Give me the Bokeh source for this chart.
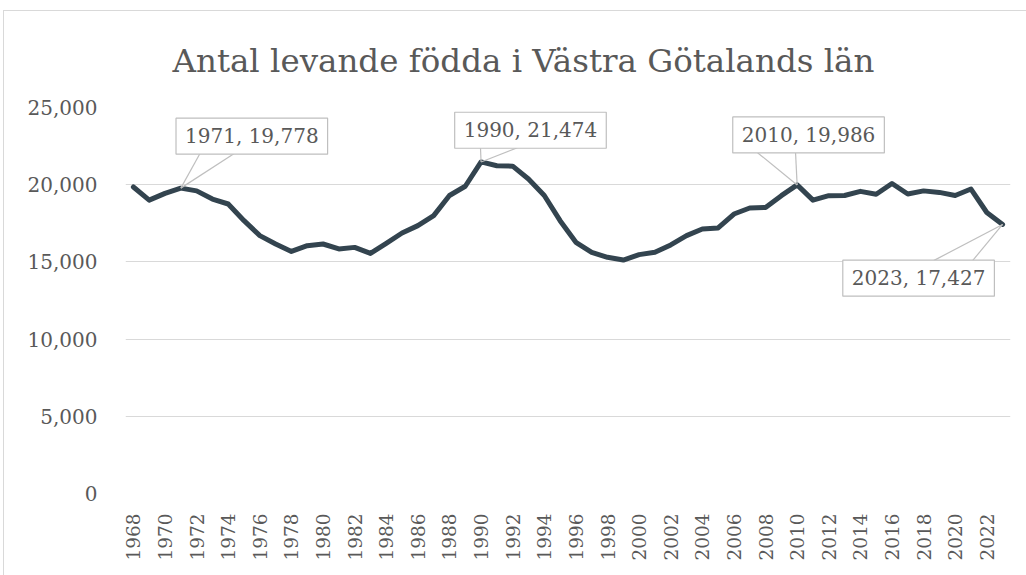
from bokeh.plotting import figure
from bokeh.models import Range1d, FixedTicker, NumeralTickFormatter, Label, ColumnDataSource
from bokeh.embed import file_html
from bokeh.resources import INLINE

# ---- data ----
title_text = "Antal levande födda i Västra Götalands län"
years = list(range(1968, 2024))
births = [19850, 19000, 19440, 19778, 19600, 19070, 18750, 17670, 16700, 16160,
          15680, 16050, 16160, 15840, 15940, 15550, 16200, 16870, 17350, 18000,
          19300, 19900, 21474, 21230, 21200, 20370, 19300, 17670, 16270, 15620,
          15300, 15120, 15470, 15620, 16100, 16700, 17130, 17200, 18100, 18490,
          18530, 19290, 19986, 19000, 19290, 19300, 19570, 19380, 20080, 19400,
          19600, 19500, 19300, 19720, 18200, 17427]
y_ticks = [0, 5000, 10000, 15000, 20000, 25000]
x_ticks = years[::2]
annotated_years = [1971, 1990, 2010, 2023]

# ---- layout ----
W, H = 1022, 564
BL, BR, BT, BB = 121, 16, 96, 82
X0, X1 = years[0] - 0.5, years[-1] + 0.5
Y0, Y1 = y_ticks[0], y_ticks[-1]
px_x = (W - BL - BR) / (X1 - X0)
px_y = (H - BT - BB) / (Y1 - Y0)

FONT = "DejaVu Serif"
GRAY = "#595959"

p = figure(width=W, height=H, output_backend="svg", toolbar_location=None,
           x_range=Range1d(X0, X1), y_range=Range1d(Y0, Y1),
           min_border_left=BL, min_border_right=BR, min_border_top=BT, min_border_bottom=BB)
p.styles = {"margin-left": "4px", "margin-top": "11px",
            "outline": "1px solid #d9d9d9"}
p.outline_line_color = None
p.background_fill_color = "white"
p.border_fill_color = "white"

p.title.text = title_text
p.title.text_font = FONT
p.title.text_font_size = "32.5px"
p.title.text_font_style = "normal"
p.title.text_color = GRAY
p.title.align = "left"
p.title.offset = 47
p.title.standoff = 55

p.xgrid.grid_line_color = None
p.ygrid.grid_line_color = "#d9d9d9"
p.ygrid.grid_line_width = 1

p.yaxis.ticker = FixedTicker(ticks=y_ticks)
p.yaxis.formatter = NumeralTickFormatter(format="0,0")
p.xaxis.ticker = FixedTicker(ticks=x_ticks)
p.xaxis.major_label_orientation = 1.5707963267948966
for ax in (p.xaxis, p.yaxis):
    ax.axis_line_color = None
    ax.major_tick_line_color = None
    ax.minor_tick_line_color = None
    ax.major_label_text_font = FONT
    ax.major_label_text_color = GRAY
p.yaxis.major_label_text_font_size = "20px"
p.xaxis.major_label_text_font_size = "18.5px"
p.yaxis.major_label_standoff = 22
p.xaxis.major_label_standoff = 14

src = ColumnDataSource(dict(x=years, y=births))
p.line("x", "y", source=src, line_color="#33444f", line_width=5,
       line_join="round", line_cap="round")

# callouts: (box centre offset px, wedge base offsets px) ; screen y downwards
callout_style = {
    1971: ((71, -52), (19.6, 54.6), -35.4),
    1990: ((49.4, -31.7), (-0.6, 36.4), -14.2),
    2010: ((11.4, -50), (-39.6, -1.6), -32.2),
    2023: ((-84, 53.7), (-69, -30), 36.2),
}
for yr in annotated_years:
    v = births[years.index(yr)]
    (cdx, cdy), (b1, b2), by = callout_style[yr]
    for b in (b1, b2):
        p.segment(x0=[yr], y0=[v], x1=[yr + b / px_x], y1=[v - by / px_y],
                  line_color="#bfbfbf", line_width=1.2)
    p.add_layout(Label(x=yr + cdx / px_x, y=v - cdy / px_y, text=f"{yr}, {v:,}",
                       text_font=FONT, text_font_size="20px", text_color=GRAY,
                       text_align="center", text_baseline="middle",
                       background_fill_color="white", border_line_color="#bfbfbf",
                       border_line_width=1.2, padding=(9, 6)))

open("out.html", "w").write(file_html(p, INLINE))
